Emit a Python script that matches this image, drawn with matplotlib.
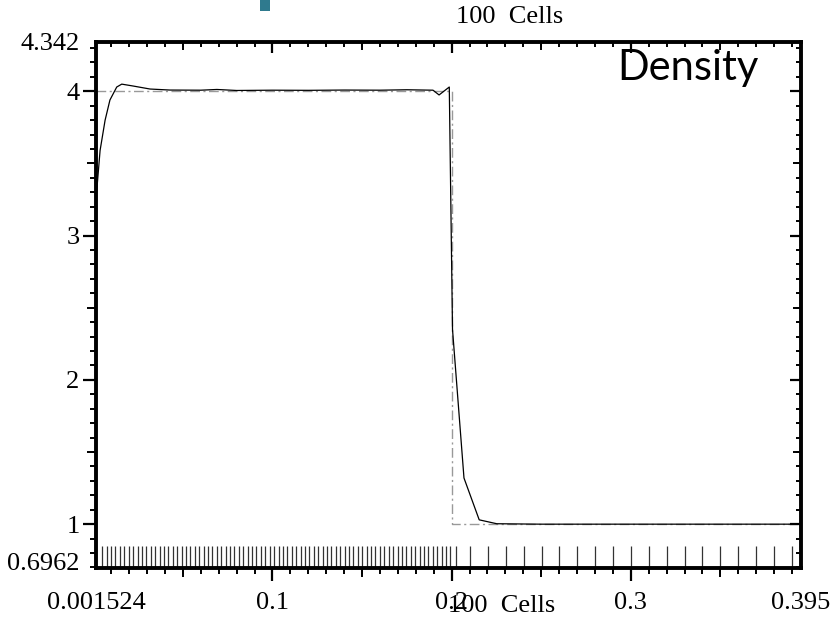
import matplotlib
matplotlib.use("Agg")
import matplotlib.pyplot as plt
import matplotlib.transforms as mtransforms
from matplotlib.patches import Rectangle
from matplotlib.ticker import MultipleLocator, FixedLocator, NullLocator

# ---- data ----
x_min, x_max = 0.001524, 0.395
y_min, y_max = 0.6962, 4.342

x_tick_labels = ["0.001524", "0.1", "0.2", "0.3", "0.395"]
x_tick_vals = [0.001524, 0.1, 0.2, 0.3, 0.395]
y_tick_labels = ["0.6962", "1", "2", "3", "4", "4.342"]
y_tick_vals = [0.6962, 1, 2, 3, 4, 4.342]

x_major = [0.1, 0.2, 0.3]
x_medium = [0.05, 0.15, 0.25, 0.35]
y_major = [1, 2, 3, 4]
y_medium = [1.5, 2.5, 3.5]

# exact solution
exact_x = [0.001524, 0.2, 0.2, 0.395]
exact_y = [4.0, 4.0, 1.0, 1.0]

# numerical solution (100 cells)
num_x = [0.001524, 0.0038, 0.0066, 0.0093, 0.0131, 0.0159, 0.0222, 0.0317, 0.0428,
         0.06, 0.069, 0.08, 0.10, 0.12, 0.14, 0.16, 0.175, 0.1896, 0.1930, 0.1987,
         0.2005, 0.2069, 0.2154, 0.2252, 0.25, 0.30, 0.35, 0.395]
num_y = [3.25, 3.59, 3.80, 3.94, 4.03, 4.05, 4.037, 4.016, 4.009,
         4.008, 4.013, 4.006, 4.008, 4.007, 4.009, 4.008, 4.011, 4.008, 3.975, 4.03,
         2.35, 1.32, 1.03, 1.003, 1.0, 1.0, 1.0, 1.0]

# cell positions (rug)
cell_x = [0.0050, 0.0075, 0.0099, 0.0124, 0.0148, 0.0173, 0.0198, 0.0222, 0.0247, 0.0271,
          0.0296, 0.0321, 0.0345, 0.0370, 0.0394, 0.0419, 0.0444, 0.0468, 0.0493, 0.0517,
          0.0542, 0.0567, 0.0591, 0.0616, 0.0640, 0.0665, 0.0690, 0.0714, 0.0739, 0.0763,
          0.0788, 0.0813, 0.0837, 0.0862, 0.0886, 0.0911, 0.0936, 0.0960, 0.0985, 0.1009,
          0.1034, 0.1059, 0.1083, 0.1108, 0.1132, 0.1157, 0.1182, 0.1206, 0.1231, 0.1255,
          0.1280, 0.1305, 0.1329, 0.1354, 0.1378, 0.1403, 0.1428, 0.1452, 0.1477, 0.1501,
          0.1526, 0.1551, 0.1575, 0.1600, 0.1624, 0.1649, 0.1674, 0.1698, 0.1723, 0.1747,
          0.1772, 0.1797, 0.1821, 0.1846, 0.1870, 0.1895, 0.1920, 0.1944, 0.1969, 0.1993,
          0.2025, 0.2104, 0.2204, 0.2303, 0.2403, 0.2503, 0.2602, 0.2702, 0.2802, 0.2901,
          0.3001, 0.3101, 0.3200, 0.3300, 0.3400, 0.3499, 0.3599, 0.3699, 0.3798, 0.3898]
rug_top = 0.85

# ---- figure ----
fig = plt.figure(figsize=(8.36, 6.2), dpi=100)
pos = [96/836, 1-568/620, 705/836, 526/620]
ax = fig.add_axes(pos)
ax.set_xlim(x_min, x_max)
ax.set_ylim(y_min, y_max)

ax.plot(exact_x, exact_y, color="#999999", lw=1.0, linestyle=(0, (7, 2.5, 1.5, 2.5)))
ax.plot(num_x, num_y, color="black", lw=0.9)
ax.vlines(cell_x, y_min, rug_top, color="#333333", lw=0.9)

serif = "Liberation Serif"
fs = 19
# outward (bottom/left) and inward (top/right) tick lengths in points
O_MAJ, O_MED, O_MIN = 9.4, 6.5, 4.2
I_MAJ, I_MED, I_MIN = 8.0, 5.6, 3.8

for s in ax.spines.values():
    s.set_linewidth(2.8)

# labels on main axes (ticks invisible; length sets label offset)
ax.xaxis.set_major_locator(FixedLocator(x_tick_vals))
ax.set_xticklabels(x_tick_labels, fontname=serif, fontsize=fs)
ax.yaxis.set_major_locator(FixedLocator(y_tick_vals))
ax.set_yticklabels(y_tick_labels, fontname=serif, fontsize=fs)
ax.xaxis.set_minor_locator(NullLocator())
ax.yaxis.set_minor_locator(NullLocator())
ax.tick_params(axis="x", which="major", direction="out", length=O_MAJ, width=0,
               pad=8, top=False)
ax.tick_params(axis="y", which="major", direction="out", length=O_MAJ, width=0,
               pad=2.5, right=False)
lab0 = ax.yaxis.get_major_ticks()[0].label1
lab0.set_transform(lab0.get_transform() +
                   mtransforms.ScaledTranslation(0, 6/100, fig.dpi_scale_trans))


def overlay():
    a = fig.add_axes(pos, frameon=False)
    a.set_xlim(x_min, x_max)
    a.set_ylim(y_min, y_max)
    a.patch.set_alpha(0)
    return a


# outward bottom/left: major + minor
o1 = overlay()
o1.xaxis.set_major_locator(FixedLocator(x_major))
o1.xaxis.set_minor_locator(MultipleLocator(0.01))
o1.yaxis.set_major_locator(FixedLocator(y_major))
o1.yaxis.set_minor_locator(MultipleLocator(0.1))
o1.tick_params(which="major", direction="out", length=O_MAJ, width=1.6,
               top=False, right=False, labelbottom=False, labelleft=False)
o1.tick_params(which="minor", direction="out", length=O_MIN, width=1.4,
               top=False, right=False)

# outward bottom/left: medium
o2 = overlay()
o2.xaxis.set_major_locator(FixedLocator(x_medium))
o2.yaxis.set_major_locator(FixedLocator(y_medium))
o2.tick_params(which="major", direction="out", length=O_MED, width=1.4,
               top=False, right=False, labelbottom=False, labelleft=False)

# inward top/right: major + minor
o3 = overlay()
o3.xaxis.set_major_locator(FixedLocator(x_major))
o3.xaxis.set_minor_locator(MultipleLocator(0.01))
o3.yaxis.set_major_locator(FixedLocator(y_major))
o3.yaxis.set_minor_locator(MultipleLocator(0.1))
o3.tick_params(which="major", direction="in", length=I_MAJ, width=1.6,
               top=True, right=True, bottom=False, left=False,
               labelbottom=False, labelleft=False)
o3.tick_params(which="minor", direction="in", length=I_MIN, width=1.4,
               top=True, right=True, bottom=False, left=False)

# inward top/right: medium
o4 = overlay()
o4.xaxis.set_major_locator(FixedLocator(x_medium))
o4.yaxis.set_major_locator(FixedLocator(y_medium))
o4.tick_params(which="major", direction="in", length=I_MED, width=1.4,
               top=True, right=True, bottom=False, left=False,
               labelbottom=False, labelleft=False)

# texts
fig.text(510/836, 1-17/620, "100  Cells", fontname=serif, fontsize=fs,
         ha="center", va="center")
fig.text(502/836, 1-606/620, "100  Cells", fontname=serif, fontsize=fs,
         ha="center", va="center")
fig.text(617/836, 1-80/620, "Density", fontname="Lato", fontsize=30,
         ha="left", va="baseline")

# teal marker at top
fig.patches.append(Rectangle((260/836, 1-11/620), 10/836, 11/620,
                             transform=fig.transFigure, color="#2f7a8e", lw=0))

fig.savefig("out.png", dpi=100)
